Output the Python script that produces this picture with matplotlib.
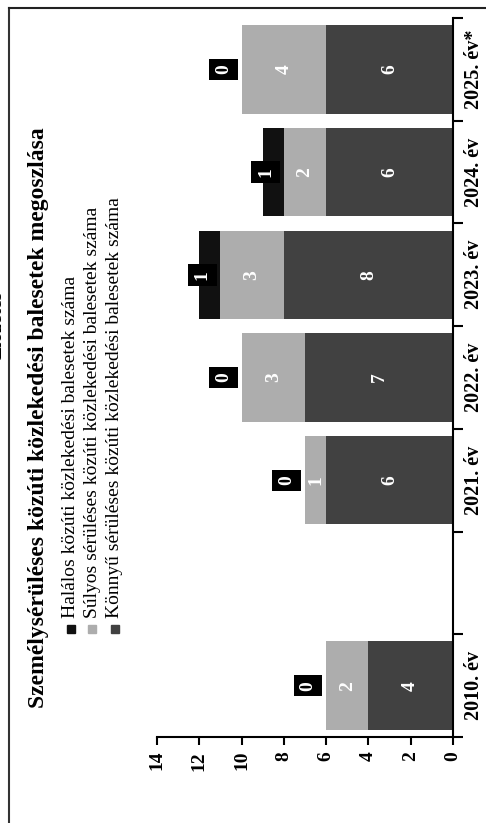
import matplotlib
matplotlib.use("Agg")
import matplotlib.pyplot as plt
import numpy as np
from matplotlib.patches import Rectangle
from matplotlib.lines import Line2D

plt.rcParams['font.family'] = ['Liberation Serif', 'DejaVu Serif']

# adatok (az ures hely a 2010 es 2021 kozotti kihagyott ev)
categories = ["2010. év", "", "2021. év", "2022. év", "2023. év", "2024. év", "2025. év*"]
konnyu = [4, None, 6, 7, 8, 6, 6]
sulyos = [2, None, 1, 3, 3, 2, 4]
halalos = [0, None, 0, 0, 1, 1, 0]

series_names = ["Halálos közúti közlekedési balesetek száma",
                "Súlyos sérüléses közúti közlekedési balesetek száma",
                "Könnyű sérüléses közúti közlekedési balesetek száma"]
title = "Személysérüléses közúti közlekedési balesetek megoszlása"
value_ticks = [0, 2, 4, 6, 8, 10, 12, 14]

c_halalos = "#111111"
c_sulyos = "#adadad"
c_konnyu = "#414141"

fig = plt.figure(figsize=(4.86, 8.23), dpi=100)
ax = fig.add_axes([0.323, 0.1045, 0.609, 0.8736])

y = np.arange(len(categories))
k = np.array(konnyu, dtype=float)
s = np.array(sulyos, dtype=float)
h = np.array(halalos, dtype=float)

ax.barh(y, k, height=0.86, color=c_konnyu)
ax.barh(y, s, left=k, height=0.86, color=c_sulyos)
ax.barh(y, h, left=k + s, height=0.86, color=c_halalos)

# feliratok a savokban
for i in range(len(categories)):
    if np.isnan(k[i]):
        continue
    ax.text(k[i] / 2, y[i], str(int(k[i])), rotation=90, ha='center', va='center',
            color='white', fontweight='bold', fontsize=14)
    ax.text(k[i] + s[i] / 2, y[i], str(int(s[i])), rotation=90, ha='center', va='center',
            color='white', fontweight='bold', fontsize=14)
    ax.annotate(str(int(h[i])), xy=(k[i] + s[i], y[i]), xytext=(-7, 0),
                textcoords='offset points', rotation=90, ha='right', va='center',
                color='white', fontweight='bold', fontsize=14,
                bbox=dict(boxstyle='square,pad=0.3', fc='black', ec='none'))

ax.set_xlim(14, 0)
ax.set_ylim(-0.5, len(categories) - 0.5)
ax.set_xticks(value_ticks)
ax.set_xticklabels([str(v) for v in value_ticks], rotation=90, fontweight='bold', fontsize=14)
ax.tick_params(axis='x', direction='out', length=6, width=1.5, pad=4)

ax.yaxis.tick_right()
ax.set_yticks(np.arange(-0.5, len(categories)))
ax.set_yticklabels([])
ax.set_yticks(y, minor=True)
ax.set_yticklabels(categories, minor=True, rotation=90, fontweight='bold', fontsize=14.5)
for lbl in ax.get_yticklabels(minor=True):
    lbl.set_va('center')
ax.tick_params(axis='y', which='major', direction='out', length=7, width=1.5)
ax.tick_params(axis='y', which='minor', length=0, pad=8)

for side in ['left', 'top']:
    ax.spines[side].set_visible(False)
for side in ['right', 'bottom']:
    ax.spines[side].set_linewidth(1.5)

# cim es jelmagyarazat (elforgatva)
fig.text(0.08, 0.4927, title, rotation=90, ha='center', va='center',
         fontweight='bold', fontsize=17)
legend_colors = [c_halalos, c_sulyos, c_konnyu]
legend_x = [0.146, 0.190, 0.236]
for name, col, lx in zip(series_names, legend_colors, legend_x):
    fig.patches.append(Rectangle((lx - 0.008, 0.231), 0.016, 0.0097, color=col,
                                 transform=fig.transFigure, figure=fig))
    fig.text(lx, 0.249, name, rotation=90, ha='center', va='bottom', fontsize=14)

fig.text(-0.006, 0.605, "Előzetes", rotation=90, ha='center', va='center',
         fontweight='bold', fontsize=14)

# keret a lap szelen
fig.lines.append(Line2D([0.0185, 0.0185], [0, 0.99], transform=fig.transFigure,
                        color='#333333', lw=1.5))
fig.lines.append(Line2D([0.0185, 1], [0.99, 0.99], transform=fig.transFigure,
                        color='#222222', lw=1.5))

fig.savefig("out.png", dpi=100)
